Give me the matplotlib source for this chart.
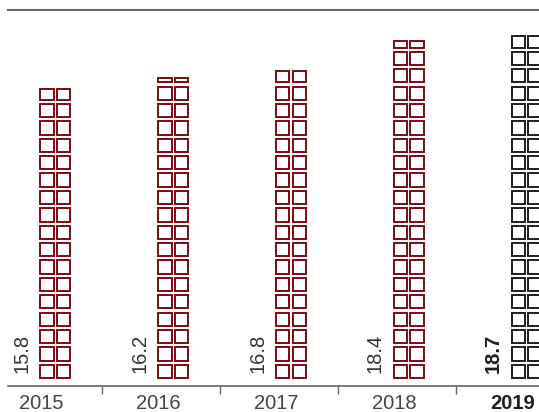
import matplotlib
matplotlib.use("Agg")
import matplotlib.pyplot as plt
from matplotlib.patches import Rectangle
import math

plt.rcParams['font.family'] = ['Liberation Sans', 'DejaVu Sans']

# data
years = ['2015', '2016', '2017', '2018', '2019']
values = [15.8, 16.2, 16.8, 18.4, 18.7]
highlight = [False, False, False, False, True]

unit = 0.94          # value carried by one row of squares
red = '#7d0a12'
dark = '#1e1e1e'
grey = '#666666'

W, H = 539, 412
fig = plt.figure(figsize=(W / 100, H / 100), dpi=100)
ax = fig.add_axes([8 / W, (H - 386) / H, (W - 8) / W, (386 - 10) / H])

px_x = 117.8   # pixels per category
px_y = 18.5    # pixels per value unit
ax.set_xlim(-33 / px_x, (W - 41) / px_x)
ax.set_ylim(-7 / px_y, (379 - 10) / px_y)

lw = 1.4
lwpx = lw * 100 / 72
sq_w = (15.2 - lwpx) / px_x
col_pitch = 16.6 / px_x
sq_h = (15.2 - lwpx) / px_y
row_pitch = unit

for i, (v, hl) in enumerate(zip(values, highlight)):
    col = dark if hl else red
    x0 = i - 1.5 / px_x
    n = v / unit
    full = int(math.floor(n))
    frac = n - full
    for r in range(full + 1):
        if r < full:
            h = sq_h
        else:
            if frac < 0.05:
                continue
            h = max(frac * 15.2, 6.0) / px_y - lwpx / px_y
        y = r * row_pitch + (lwpx / 2) / px_y
        for c in range(2):
            ax.add_patch(Rectangle((x0 + c * col_pitch + (lwpx / 2) / px_x, y), sq_w, h,
                                   facecolor='white', edgecolor=col, lw=lw))
    ax.text(x0 - 8 / px_x, 0.3, f'{v:.1f}', rotation=90, ha='right', va='bottom',
            fontsize=14.5, color=dark if hl else '#333333',
            fontweight='bold' if hl else 'normal')

ax.set_xticks(range(len(years)))
ax.set_xticklabels(years)
for lab, hl in zip(ax.get_xticklabels(), highlight):
    lab.set_fontsize(14.5)
    lab.set_color(dark if hl else '#444444')
    if hl:
        lab.set_fontweight('bold')
ax.tick_params(axis='x', which='major', length=0, pad=6)
ax.set_xticks([i + 0.52 for i in range(len(years) - 1)], minor=True)
ax.tick_params(axis='x', which='minor', length=6, width=1, color=grey, direction='out')
ax.set_yticks([])

for s in ['left', 'right']:
    ax.spines[s].set_visible(False)
ax.spines['top'].set_color(grey)
ax.spines['top'].set_linewidth(1.5)
ax.spines['bottom'].set_color(grey)
ax.spines['bottom'].set_linewidth(1.2)

fig.savefig('out.png', dpi=100)
